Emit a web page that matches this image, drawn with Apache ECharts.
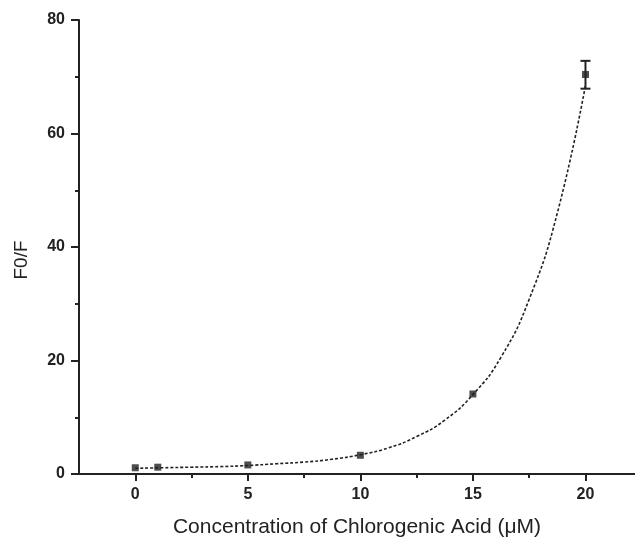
<!DOCTYPE html>
<html>
<head>
<meta charset="utf-8">
<script src="https://cdn.jsdelivr.net/npm/echarts@6/dist/echarts.min.js"></script>
<style>
  html, body { margin: 0; padding: 0; background: #fff; }
  #chart { width: 635px; height: 543px; }
</style>
</head>
<body>
<div id="chart"></div>
<script>
// Measured points
const concX = [0, 1, 5, 10, 15, 20];
const ratioY = [1.1, 1.2, 1.6, 3.3, 14.1, 70.4];

// Error bar at the last point: [x, low, high]
const errorBars = [[20, 67.9, 72.8]];

// Fitted curve
const fitX = [0, 1.25, 2.5, 3.75, 5, 6.25, 7.5, 8.75, 10, 11.25, 12.5, 13.75, 15, 16.25, 17.5, 18.75, 20];
const fitY = [1.0, 1.1, 1.2, 1.3, 1.5, 1.8, 2.1, 2.6, 3.4, 4.6, 6.6, 9.5, 14, 20.6, 30.8, 46, 68.5];

// Ticks
const xMajorTicks = [0, 5, 10, 15, 20];
const xMinorTicks = [2.5, 7.5, 12.5, 17.5];

const ink = '#222';
const font = 'Liberation Sans, Arial, sans-serif';

const chart = echarts.init(document.getElementById('chart'));

chart.setOption({
    animation: false,
    grid: { left: 79, right: 0, top: 20, bottom: 65 },
    xAxis: [{
        type: 'value',
        min: -2.5,
        max: 22.2,
        position: 'bottom',
        name: 'Concentration of Chlorogenic Acid (μM)',
        nameLocation: 'middle',
        nameGap: 43,
        nameTextStyle: { color: ink, fontSize: 21, fontFamily: font },
        axisLine: { onZero: false, lineStyle: { color: ink, width: 2 } },
        axisTick: { customValues: xMajorTicks, length: 7, lineStyle: { color: ink, width: 2 } },
        axisLabel: {
            customValues: xMajorTicks, margin: 13,
            color: ink, fontSize: 16, fontWeight: 'bold', fontFamily: font
        },
        splitLine: { show: false }
    }, {
        // minor ticks only
        type: 'value',
        min: -2.5,
        max: 22.2,
        position: 'bottom',
        axisLine: { show: false, onZero: false },
        axisTick: { customValues: xMinorTicks, length: 4, lineStyle: { color: ink, width: 2 } },
        axisLabel: { show: false },
        splitLine: { show: false }
    }],
    yAxis: {
        type: 'value',
        min: 0,
        max: 80,
        interval: 20,
        position: 'left',
        name: 'F0/F',
        nameLocation: 'middle',
        nameGap: 48,
        nameTextStyle: {
            color: ink, fontSize: 19, fontFamily: font,
            padding: [0, 26, 0, 0]
        },
        axisLine: { show: true, onZero: false, lineStyle: { color: ink, width: 2 } },
        axisTick: { show: true, length: 8, lineStyle: { color: ink, width: 2 } },
        minorTick: { show: true, splitNumber: 2, length: 4, lineStyle: { color: ink, width: 2 } },
        axisLabel: { margin: 14, color: ink, fontSize: 16, fontWeight: 'bold', fontFamily: font },
        splitLine: { show: false }
    },
    series: [{
        type: 'line',
        data: fitX.map((x, i) => [x, fitY[i]]),
        smooth: true,
        showSymbol: false,
        lineStyle: { color: ink, width: 1.6, type: [3, 2] },
        z: 1
    }, {
        type: 'custom',
        data: errorBars,
        renderItem(params, api) {
            const x = api.value(0);
            const top = api.coord([x, api.value(2)]);
            const bot = api.coord([x, api.value(1)]);
            const w = 5;
            const style = { stroke: ink, lineWidth: 2 };
            return {
                type: 'group',
                children: [
                    { type: 'line', shape: { x1: top[0], y1: top[1], x2: bot[0], y2: bot[1] }, style },
                    { type: 'line', shape: { x1: top[0] - w, y1: top[1], x2: top[0] + w, y2: top[1] }, style },
                    { type: 'line', shape: { x1: bot[0] - w, y1: bot[1], x2: bot[0] + w, y2: bot[1] }, style }
                ]
            };
        },
        z: 2
    }, {
        type: 'scatter',
        data: concX.map((x, i) => [x, ratioY[i]]),
        symbol: 'rect',
        symbolSize: 7,
        itemStyle: { color: ink },
        z: 3
    }]
});
</script>
</body>
</html>
